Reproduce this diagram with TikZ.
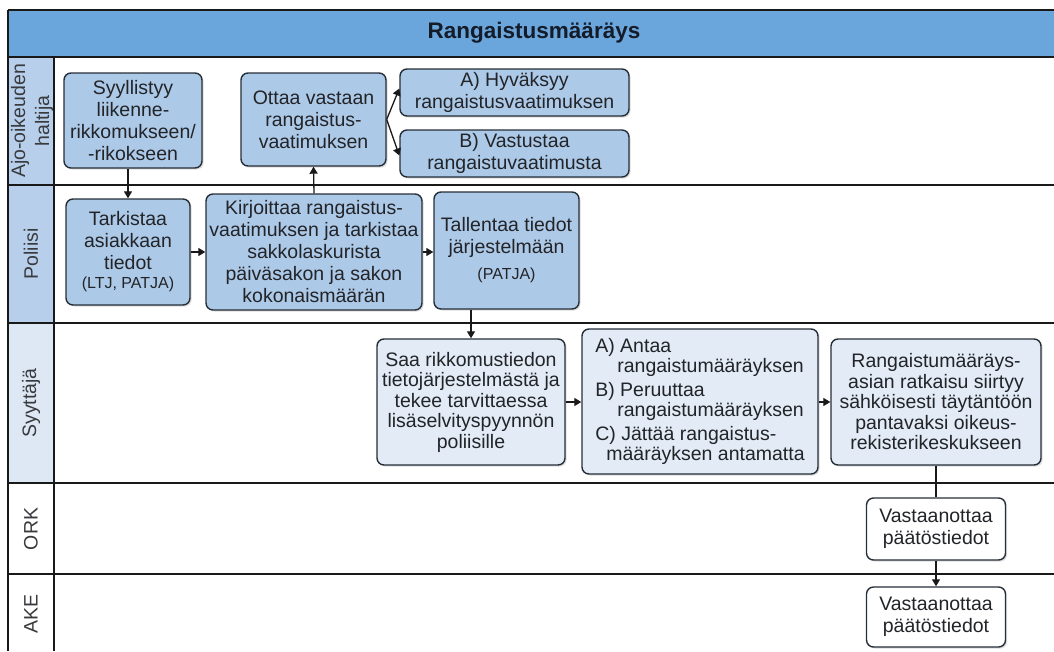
\documentclass[tikz,border=0pt]{standalone}
\usepackage{fontspec}
\setmainfont{Liberation Sans}
\usetikzlibrary{arrows.meta,shadows}

\definecolor{titleblue}{HTML}{6AA6DC}
\definecolor{headblue}{HTML}{B7CFEB}
\definecolor{headpale}{HTML}{DDE8F4}
\definecolor{boxblue}{HTML}{ADC9E8}
\definecolor{boxpale}{HTML}{E2EBF6}
\definecolor{edgecol}{HTML}{262E38}
\definecolor{ink}{HTML}{222428}
\definecolor{titleink}{HTML}{141C2A}

% smaller type for the register names
\newcommand{\regtxt}[1]{{\fontsize{16}{18}\selectfont #1}}

\tikzset{
  lane/.style={draw=black!90, line width=1.8pt},
  lanelabel/.style={rotate=90, align=center, text=ink!90,
    font=\fontsize{19.5}{24}\selectfont},
  box/.style={draw=edgecol, line width=1.4pt, rounded corners=7pt,
    inner sep=1pt, align=center, text=ink,
    font=\fontsize{19.5}{22}\selectfont,
    drop shadow={opacity=0.28, shadow xshift=1.6pt, shadow yshift=-1.6pt}},
  bluebox/.style={box, fill=boxblue},
  palebox/.style={box, fill=boxpale, font=\fontsize{19.5}{20.5}\selectfont},
  whitebox/.style={box, fill=white, font=\fontsize{19.5}{22}\selectfont},
  flow/.style={draw=black!90, line width=1.3pt},
  arr/.style={flow, -{Triangle[length=7pt,width=8pt]}}
}

\begin{document}
\begin{tikzpicture}[x=1pt,y=-1pt]
\useasboundingbox (0,0) rectangle (1054,651);

% swimlane backgrounds
\fill[titleblue] (8,10) rectangle (1054,57);
\fill[headblue] (8,57) rectangle (54,323);
\fill[headpale] (8,323) rectangle (54,483);

% swimlane frame
\draw[lane] (8,10) -- (1054,10);
\foreach \ly in {57,185,323,483,574} \draw[lane] (8,\ly) -- (1054,\ly);
\draw[lane] (8,10) -- (8,651);
\draw[lane] (54,57) -- (54,651);

% title and lane names
\node[text=titleink, font=\bfseries\fontsize{22.5}{26}\selectfont] (title) at (534,33) {Rangaistusmääräys};
\node[lanelabel] (laneA) at (32,121) {Ajo-oikeuden\\haltija};
\node[lanelabel] (laneB) at (31,254) {Poliisi};
\node[lanelabel] (laneC) at (31,403) {Syyttäjä};
\node[lanelabel] (laneD) at (31,529) {ORK};
\node[lanelabel] (laneE) at (31,614) {AKE};

% Ajo-oikeuden haltija
\node[bluebox, minimum width=138pt, minimum height=95pt] (syl) at (133,120.5)
  {Syyllistyy\\liikenne-\\rikkomukseen/\\-rikokseen};
\node[bluebox, minimum width=145pt, minimum height=93pt] (otta) at (313.5,119.5)
  {Ottaa vastaan\\rangaistus-\\vaatimuksen};
\node[bluebox, minimum width=229pt, minimum height=47pt] (hyv) at (514.5,92.5)
  {A) Hyväksyy\\rangaistusvaatimuksen};
\node[bluebox, minimum width=229pt, minimum height=47pt] (vast) at (514.5,153.5)
  {B) Vastustaa\\rangaistuvaatimusta};

% Poliisi
\node[bluebox, minimum width=124pt, minimum height=106pt] (tark) at (128,252)
  {Tarkistaa\\asiakkaan\\tiedot\\[-3pt]\regtxt{(LTJ, PATJA)}};
\node[bluebox, minimum width=216pt, minimum height=116pt] (kir) at (314,252)
  {Kirjoittaa rangaistus-\\vaatimuksen ja tarkistaa\\sakkolaskurista\\päiväsakon ja sakon\\kokonaismäärän};
\node[bluebox, minimum width=145pt, minimum height=117pt] (tal) at (506.5,250.5)
  {Tallentaa tiedot\\järjestelmään\\[4pt]\regtxt{(PATJA)}};

% Syyttäjä
\node[palebox, minimum width=188pt, minimum height=126pt] (saa) at (471,402)
  {Saa rikkomustiedon\\tietojärjestelmästä ja\\tekee tarvittaessa\\lisäselvityspyynnön\\poliisille};
\node[palebox, align=left, minimum width=236pt, minimum height=145pt] (abc) at (700,401.5)
  {A) Antaa\\\hspace*{22pt}rangaistumääräyksen\\[3pt]B) Peruuttaa\\\hspace*{22pt}rangaistumääräyksen\\[3pt]C) Jättää rangaistus-\\\hspace*{11pt}määräyksen antamatta};
\node[palebox, minimum width=210pt, minimum height=126pt] (ran) at (936,402)
  {Rangaistumääräys-\\asian ratkaisu siirtyy\\sähköisesti täytäntöön\\pantavaksi oikeus-\\rekisterikeskukseen};

% ORK and AKE
\node[whitebox, minimum width=139pt, minimum height=62pt] (ork) at (936,529)
  {Vastaanottaa\\päätöstiedot};
\node[whitebox, minimum width=139pt, minimum height=60pt] (ake) at (936,617)
  {Vastaanottaa\\päätöstiedot};

% connectors
\draw[arr] (tark.north |- syl.south) -- (tark.north);
\draw[arr] (kir.north) -- (otta.south);
\draw[arr] (otta.east) -- ([yshift=4pt]hyv.west);
\draw[arr] (otta.east) -- ([yshift=-2pt]vast.west);
\draw[arr] (tark.east) -- (kir.west |- tark.east);
\draw[arr] (kir.east) -- (tal.west |- kir.east);
\draw[arr] (saa.north |- tal.south) -- (saa.north);
\draw[arr] (saa.east) -- (abc.west |- saa.east);
\draw[arr] (abc.east |- ran.west) -- (ran.west);
\draw[flow] (ran.south) -- (ork.north);
\draw[arr] (ork.south) -- (ake.north);
\end{tikzpicture}
\end{document}
